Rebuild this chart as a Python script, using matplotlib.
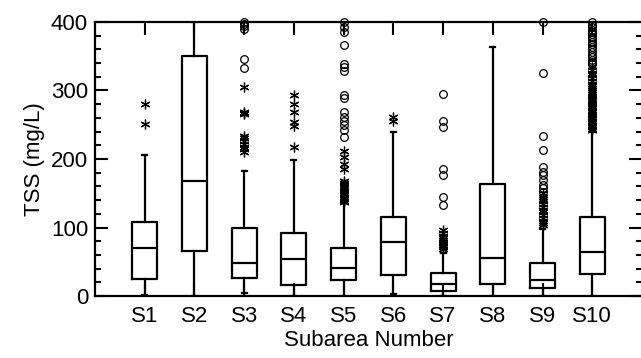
import numpy as np
import matplotlib
matplotlib.use("Agg")
import matplotlib.pyplot as plt
from matplotlib.ticker import MultipleLocator

plt.rcParams['font.family'] = ['Liberation Sans', 'DejaVu Sans']

# box statistics (mg/L)
labels = ["S1", "S2", "S3", "S4", "S5", "S6", "S7", "S8", "S9", "S10"]
whislo = [2, 0, 5, 0, 0, 3, 0, 0, 0, 0]
q1 = [25, 65, 26, 16, 23, 30, 8, 18, 11, 32]
med = [70, 168, 48, 54, 41, 79, 18, 56, 24, 64]
q3 = [108, 350, 100, 92, 70, 115, 33, 164, 48, 116]
whishi = [206, 400, 183, 199, 136, 240, 63, 363, 98, 240]

# outliers drawn as asterisks
stars = [
    [251, 280],
    [],
    [210, 214, 218, 222, 226, 230, 234, 265, 267, 269, 305],
    [218, 248, 254, 269, 280, 293],
    [137, 139, 141, 143, 145, 147, 149, 151, 153, 155, 157, 159, 161, 163,
     165, 168, 186, 193, 203, 211],
    [255, 262],
    [69, 71, 73, 75, 77, 79, 82, 85, 88, 92, 96],
    [],
    [103, 106, 110, 114, 118, 122, 126, 130, 134, 138, 142, 145, 150],
    [242, 244, 246, 248, 250, 252, 254, 256, 258, 260, 262, 264, 266, 268,
     270, 272, 274, 276, 278, 280, 282, 284, 286, 288, 290, 292, 295, 298,
     301, 304, 307, 310, 314, 318, 322, 326, 330, 334],
]

# outliers drawn as circles
circles = [
    [],
    [],
    [333, 346, 390, 394, 397, 400],
    [],
    [232, 242, 249, 255, 261, 269, 289, 294, 329, 334, 338, 366, 386, 393, 400],
    [],
    [133, 145, 177, 186, 247, 255, 295],
    [],
    [152, 157, 162, 169, 176, 181, 188, 213, 234, 325, 400],
    [338, 341, 345, 349, 352, 356, 360, 364, 368, 371, 375, 378, 382, 385,
     389, 392, 396, 400],
]

positions = np.arange(1, len(labels) + 1)

fig = plt.figure(figsize=(6.41, 3.58), dpi=100)
ax = fig.add_axes([95 / 641, 1 - 296 / 358, (642 - 95) / 641, (296 - 22) / 358])

stats = []
for i, lab in enumerate(labels):
    stats.append(dict(label=lab, whislo=whislo[i], q1=q1[i], med=med[i],
                      q3=q3[i], whishi=whishi[i], fliers=[]))

lw = 1.6
ax.bxp(stats, positions=positions, widths=0.5, capwidths=0.1, showfliers=False,
       boxprops=dict(color='black', linewidth=lw),
       medianprops=dict(color='black', linewidth=lw),
       whiskerprops=dict(color='black', linewidth=lw),
       capprops=dict(color='black', linewidth=lw))

for i, pos in enumerate(positions):
    if stars[i]:
        ax.plot(np.full(len(stars[i]), pos), stars[i], linestyle='none',
                marker=(6, 2, 0), markersize=7, markeredgewidth=0.9,
                color='black', clip_on=False, zorder=3)
    if circles[i]:
        ax.plot(np.full(len(circles[i]), pos), circles[i], linestyle='none',
                marker='o', markersize=5.5, markerfacecolor='none',
                markeredgecolor='black', markeredgewidth=0.9,
                clip_on=False, zorder=3)

ax.set_xlim(0, 11)
ax.set_ylim(0, 400)
ax.set_xticks(positions)
ax.set_xticklabels(labels)
ax.yaxis.set_major_locator(MultipleLocator(100))
ax.yaxis.set_minor_locator(MultipleLocator(20))

ax.tick_params(axis='both', which='major', direction='in', length=9.5, width=1.5,
               labelsize=16, top=True, right=True)
ax.tick_params(axis='y', which='minor', direction='in', length=4.5, width=1.5,
               right=True)
ax.tick_params(axis='x', which='major', pad=7)
ax.tick_params(axis='y', which='major', pad=5)

for side in ['left', 'bottom', 'top']:
    ax.spines[side].set_linewidth(1.6)
ax.spines['right'].set_visible(False)

ax.set_xlabel("Subarea Number", fontsize=16, labelpad=2)
ax.set_ylabel("TSS (mg/L)", fontsize=16, labelpad=4)

fig.savefig("out.png", dpi=100)
